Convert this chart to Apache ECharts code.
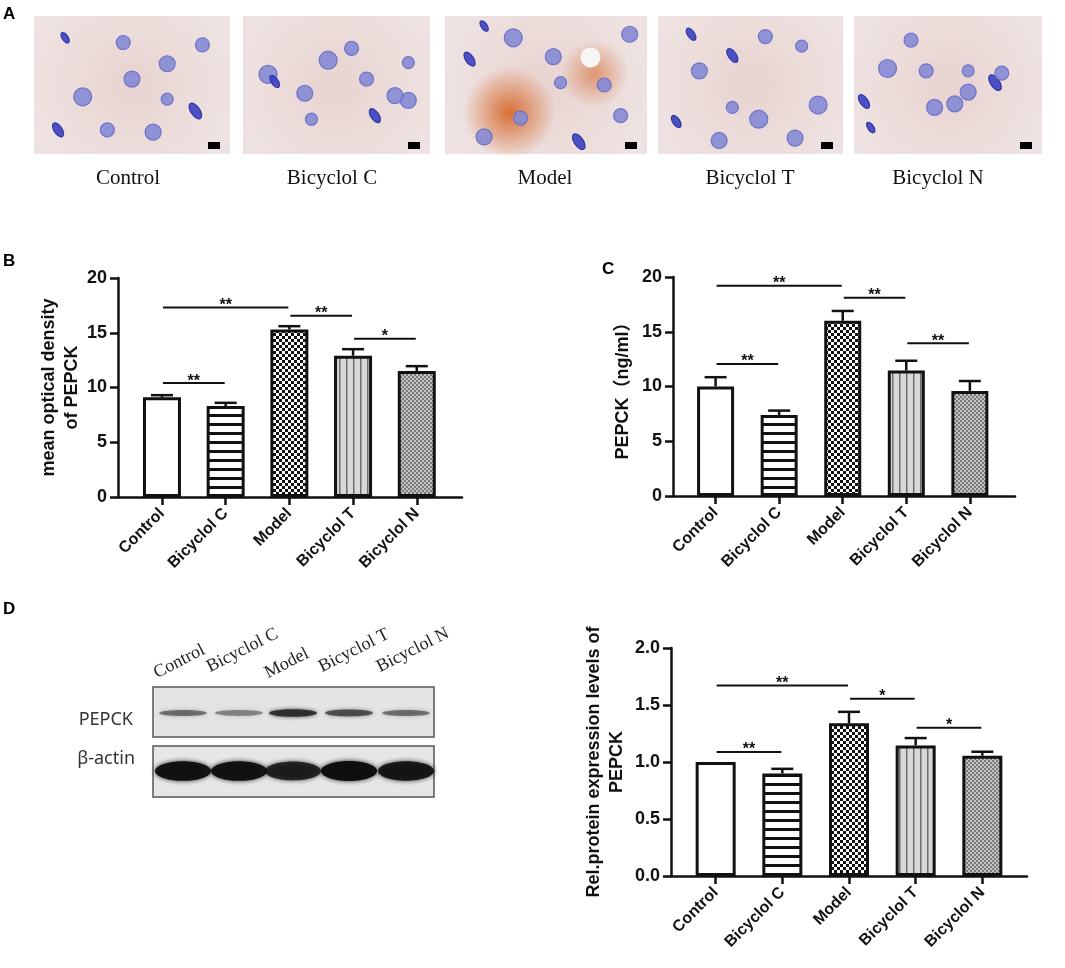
<!DOCTYPE html>
<html>
<head>
<meta charset="utf-8">
<title>PEPCK</title>
<script src="https://cdn.jsdelivr.net/npm/echarts@6/dist/echarts.min.js"></script>
<style>
html,body{margin:0;padding:0;background:#fff;}
#main{width:1065px;height:968px;}
</style>
</head>
<body>
<div id="main"></div>
<script>
// data
var groups = ['Control', 'Bicyclol C', 'Model', 'Bicyclol T', 'Bicyclol N'];

var odMean = [9.1, 8.3, 15.3, 12.9, 11.5];
var odErr = [0.2, 0.3, 0.3, 0.6, 0.45];
var odSig = [[0, 2, 17.3], [2, 3, 16.55], [3, 4, 14.45], [0, 1, 10.4]];
var odMarks = ['**', '**', '*', '**'];

var elisaMean = [10.0, 7.4, 16.0, 11.45, 9.6];
var elisaErr = [0.85, 0.4, 0.9, 0.9, 0.9];
var elisaSig = [[0, 2, 19.2], [2, 3, 18.1], [3, 4, 13.95], [0, 1, 12.06]];
var elisaMarks = ['**', '**', '**', '**'];

var wbMean = [1.0, 0.9, 1.34, 1.145, 1.055];
var wbErr = [0, 0.04, 0.1, 0.065, 0.035];
var wbSig = [[0, 2, 1.67], [2, 3, 1.555], [3, 4, 1.3], [0, 1, 1.087]];
var wbMarks = ['**', '*', '*', '**'];

// blot band strength per lane (0..1)
var pepckBand = [0.55, 0.45, 0.9, 0.7, 0.55];
var actinBand = [0.95, 0.95, 0.8, 1, 0.9];

var INK = '#111';
var FONT = '"Liberation Sans", Arial, "Noto Sans CJK SC", sans-serif';
var SERIF = '"Liberation Serif", "Times New Roman", serif';

function pattern(w, h, draw) {
	var c = document.createElement('canvas');
	c.width = w; c.height = h;
	var ctx = c.getContext('2d');
	draw(ctx);
	return {image: c, repeat: 'repeat'};
}
var fills = [
	'#ffffff',
	pattern(8, 9, function(ctx){
		ctx.fillStyle = '#fff'; ctx.fillRect(0, 0, 8, 9);
		ctx.fillStyle = '#111'; ctx.fillRect(0, 0, 8, 3);
	}),
	pattern(6, 6, function(ctx){
		ctx.fillStyle = '#fff'; ctx.fillRect(0, 0, 6, 6);
		ctx.fillStyle = '#111'; ctx.fillRect(0, 0, 3, 3); ctx.fillRect(3, 3, 3, 3);
	}),
	pattern(7, 4, function(ctx){
		ctx.fillStyle = '#d8d8d8'; ctx.fillRect(0, 0, 7, 4);
		ctx.fillStyle = '#6e6e6e'; ctx.fillRect(3, 0, 1.5, 4);
	}),
	pattern(4, 4, function(ctx){
		ctx.fillStyle = '#c4c4c4'; ctx.fillRect(0, 0, 4, 4);
		ctx.fillStyle = '#7a7a7a'; ctx.fillRect(0, 0, 2, 2); ctx.fillRect(2, 2, 2, 2);
	})
];

function errRender(params, api) {
	var x = api.value(0), m = api.value(1), e = api.value(2);
	if (!e) return null;
	var a = api.coord([x, m]), b = api.coord([x, m + e]);
	var st = {stroke: INK, lineWidth: 2.5};
	return {type: 'group', children: [
		{type: 'line', shape: {x1: a[0], y1: a[1], x2: b[0], y2: b[1]}, style: st},
		{type: 'line', shape: {x1: b[0] - 11, y1: b[1], x2: b[0] + 11, y2: b[1]}, style: st}
	]};
}
function sigRender(marks) {
	return function(params, api) {
		var h = api.value(2);
		var a = api.coord([api.value(0), h]), b = api.coord([api.value(1), h]);
		return {type: 'group', children: [
			{type: 'line', shape: {x1: a[0] + 1, y1: a[1], x2: b[0] - 1, y2: b[1]},
				style: {stroke: INK, lineWidth: 2}},
			{type: 'text', x: (a[0] + b[0]) / 2, y: a[1] - 2,
				style: {text: marks[params.dataIndex], fill: INK, fontSize: 16, fontWeight: 'bold',
					fontFamily: FONT, textAlign: 'center', textVerticalAlign: 'middle'}}
		]};
	};
}

var grids = [
	{left: 118, top: 278, width: 344, height: 219},
	{left: 673, top: 277, width: 342, height: 219},
	{left: 671, top: 648, width: 356, height: 228}
];
var xRange = [[-0.69, 4.71], [-0.67, 4.71], [-0.67, 4.67]];
var yCfg = [
	{max: 20, interval: 5, name: 'mean optical density\nof PEPCK', gap: 34, fmt: function(v){ return v; }},
	{max: 20, interval: 5, name: 'PEPCK（ng/ml）', gap: 38, fmt: function(v){ return v; }},
	{max: 2, interval: 0.5, name: 'Rel.protein expression levels of\nPEPCK', gap: 42, fmt: function(v){ return v.toFixed(1); }}
];
var means = [odMean, elisaMean, wbMean];
var errs = [odErr, elisaErr, wbErr];
var sigs = [odSig, elisaSig, wbSig];
var marks = [odMarks, elisaMarks, wbMarks];
var barW = [38, 37, 40];

var xAxes = [], yAxes = [], series = [];
var catIdx = groups.map(function(g, k){ return k; });
for (var i = 0; i < 3; i++) {
	xAxes.push({
		gridIndex: i, type: 'value', min: xRange[i][0], max: xRange[i][1],
		axisLine: {onZero: false, lineStyle: {color: INK, width: 2.5}},
		axisTick: {customValues: catIdx, length: 8, lineStyle: {color: INK, width: 2.5}},
		axisLabel: {customValues: catIdx, rotate: 45, margin: 14, color: INK,
			fontSize: 16, fontWeight: 'bold', fontFamily: FONT,
			formatter: function(v){ return groups[Math.round(v)]; }},
		splitLine: {show: false}
	});
	yAxes.push({
		gridIndex: i, type: 'value', min: 0, max: yCfg[i].max, interval: yCfg[i].interval,
		name: yCfg[i].name, nameLocation: 'middle', nameGap: yCfg[i].gap,
		nameTextStyle: {color: INK, fontSize: 18, fontWeight: 'bold', fontFamily: FONT, lineHeight: 23},
		axisLine: {show: true, onZero: false, lineStyle: {color: INK, width: 2.5}},
		axisTick: {show: true, length: 8, lineStyle: {color: INK, width: 2.5}},
		axisLabel: {margin: 11, color: INK, fontSize: 18, fontWeight: 'bold', fontFamily: FONT,
			formatter: yCfg[i].fmt},
		splitLine: {show: false}
	});
	series.push({
		type: 'bar', xAxisIndex: i, yAxisIndex: i, barWidth: barW[i],
		itemStyle: {borderColor: INK, borderWidth: 3},
		data: means[i].map(function(m, k){ return {value: [k, m], itemStyle: {color: fills[k]}}; })
	});
	series.push({
		type: 'custom', xAxisIndex: i, yAxisIndex: i, z: 5,
		renderItem: errRender, encode: {x: 0, y: 1},
		data: means[i].map(function(m, k){ return [k, m, errs[i][k]]; })
	});
	series.push({
		type: 'custom', xAxisIndex: i, yAxisIndex: i, z: 5,
		renderItem: sigRender(marks[i]), encode: {x: [0, 1], y: 2},
		data: sigs[i]
	});
}

// panel A: stand-ins for the stained sections
var tiles = [[34, 16, 196, 138], [243, 16, 187, 138], [445, 16, 202, 138], [658, 16, 185, 138], [854, 16, 188, 138]];
var tileLabelX = [128, 332, 545, 750, 938];
var nuclei = [[0.12, 0.1, 6], [0.7, 0.32, 8], [0.22, 0.6, 9], [0.5, 0.45, 8], [0.86, 0.72, 9],
	[0.36, 0.88, 7], [0.62, 0.9, 8], [0.9, 0.16, 7], [0.08, 0.88, 8], [0.45, 0.14, 7], [0.7, 0.62, 6]];
var graphic = [];
tiles.forEach(function(t, j){
	var kids = [{type: 'rect', shape: {x: 0, y: 0, width: t[2], height: t[3]},
		style: {fill: {type: 'radial', x: 0.5, y: 0.5, r: 0.75,
			colorStops: [{offset: 0, color: '#e8d3d0'}, {offset: 1, color: '#eee3e2'}]}}}];
	if (j === 2) {
		kids.push({type: 'circle', shape: {cx: t[2] * 0.32, cy: t[3] * 0.7, r: 46},
			style: {fill: {type: 'radial', x: 0.5, y: 0.5, r: 0.5,
				colorStops: [{offset: 0, color: 'rgba(215,105,45,0.95)'}, {offset: 1, color: 'rgba(215,105,45,0)'}]}}});
		kids.push({type: 'circle', shape: {cx: t[2] * 0.74, cy: t[3] * 0.42, r: 34},
			style: {fill: {type: 'radial', x: 0.5, y: 0.5, r: 0.5,
				colorStops: [{offset: 0, color: 'rgba(215,120,70,0.7)'}, {offset: 1, color: 'rgba(215,120,70,0)'}]}}});
		kids.push({type: 'circle', shape: {cx: t[2] * 0.72, cy: t[3] * 0.3, r: 10}, style: {fill: '#f8f5f5'}});
	}
	nuclei.forEach(function(n, q){
		var fx = (n[0] + 0.23 * j) % 1, fy = (n[1] + 0.31 * j * (q % 2 ? 1 : -1) + 2) % 1;
		var elong = (q + j) % 4 === 0;
		kids.push({type: 'ellipse',
			x: 10 + fx * (t[2] - 20), y: 10 + fy * (t[3] - 20),
			shape: {cx: 0, cy: 0, rx: elong ? n[2] * 0.5 : n[2], ry: n[2]},
			rotation: elong ? 0.6 : 0,
			style: {fill: elong ? '#3a40c0' : '#8589d4', stroke: elong ? '#2a30a0' : '#6a6ec6', lineWidth: 1.2, opacity: 0.9}});
	});
	kids.push({type: 'rect', shape: {x: t[2] - 22, y: t[3] - 12, width: 12, height: 7}, style: {fill: '#000'}});
	graphic.push({type: 'group', x: t[0], y: t[1], children: kids});
	graphic.push({type: 'text', x: tileLabelX[j], y: 178,
		style: {text: groups[j], fill: INK, fontSize: 21, fontFamily: SERIF, textAlign: 'center', textVerticalAlign: 'middle'}});
});

// panel D: western blot stand-in
var lanes = [183, 239, 293, 349, 406];
var laneStart = [[159, 682], [212, 676], [270, 682], [324, 676], [382, 676]];
graphic.push({type: 'rect', shape: {x: 153, y: 687, width: 281, height: 50},
	style: {fill: '#e4e4e4', stroke: '#555', lineWidth: 1.5}});
graphic.push({type: 'rect', shape: {x: 153, y: 746, width: 281, height: 51},
	style: {fill: '#e6e6e6', stroke: '#555', lineWidth: 1.5}});
lanes.forEach(function(cx, k){
	graphic.push({type: 'ellipse', shape: {cx: cx, cy: 713, rx: 24, ry: 2 + 2 * pepckBand[k]},
		style: {fill: 'rgba(40,40,40,' + pepckBand[k] + ')', shadowBlur: 4, shadowColor: 'rgba(40,40,40,' + pepckBand[k] + ')'}});
	graphic.push({type: 'ellipse', shape: {cx: cx, cy: 771, rx: 28, ry: 7 + 3 * actinBand[k]},
		style: {fill: 'rgba(15,15,15,' + actinBand[k] + ')', shadowBlur: 5, shadowColor: 'rgba(15,15,15,0.9)'}});
	graphic.push({type: 'text', x: laneStart[k][0], y: laneStart[k][1], rotation: 27 * Math.PI / 180,
		style: {text: groups[k], fill: '#222', fontSize: 18, fontFamily: SERIF, textAlign: 'left', textVerticalAlign: 'bottom'}});
});
graphic.push({type: 'text', x: 133, y: 720, style: {text: 'PEPCK', fill: '#333', fontSize: 18,
	fontFamily: '"Noto Sans", "Noto Sans CJK SC", sans-serif', textAlign: 'right', textVerticalAlign: 'middle'}});
graphic.push({type: 'text', x: 135, y: 759, style: {text: 'β-actin', fill: '#333', fontSize: 18,
	fontFamily: '"Noto Sans", "Noto Sans CJK SC", sans-serif', textAlign: 'right', textVerticalAlign: 'middle'}});

// panel letters
[['A', 3, 6], ['B', 3, 253], ['C', 602, 261], ['D', 3, 601]].forEach(function(p){
	graphic.push({type: 'text', x: p[1], y: p[2], style: {text: p[0], fill: '#000', fontSize: 17,
		fontWeight: 'bold', fontFamily: FONT, textAlign: 'left', textVerticalAlign: 'top'}});
});

var chart = echarts.init(document.getElementById('main'));
chart.setOption({
	backgroundColor: '#fff',
	animation: false,
	grid: grids,
	xAxis: xAxes,
	yAxis: yAxes,
	series: series,
	graphic: graphic
});
</script>
</body>
</html>
